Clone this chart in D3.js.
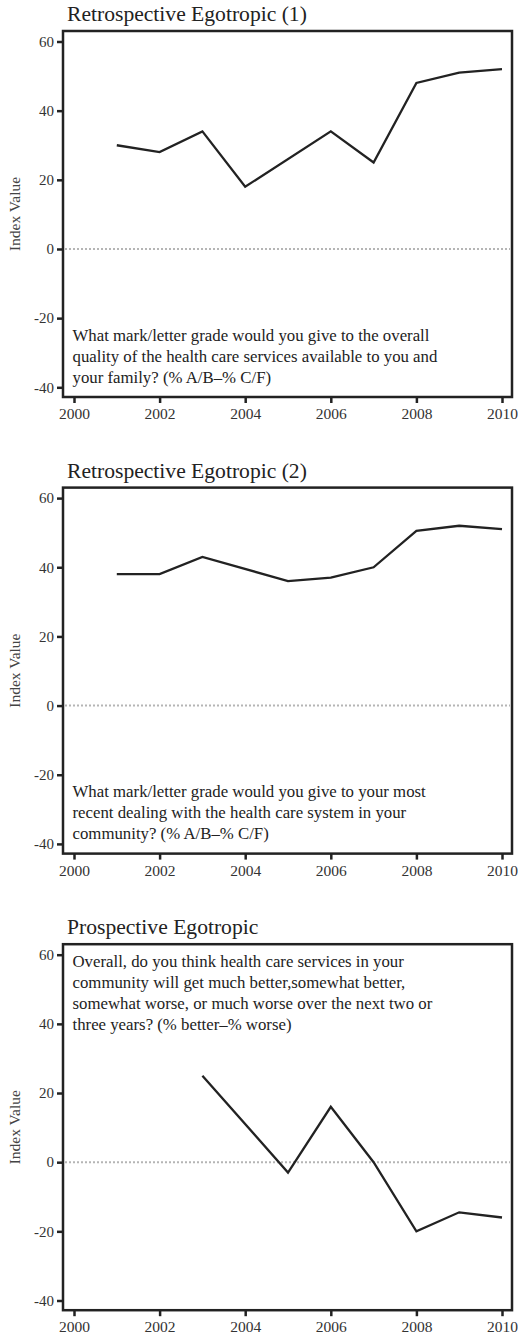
<!DOCTYPE html>
<html>
<head>
<meta charset="utf-8">
<script src="https://cdn.jsdelivr.net/npm/d3@7"></script>
<style>
  html, body { margin: 0; padding: 0; background: #fff; }
  svg { display: block; }
  svg text { font-family: "Liberation Serif", "Times New Roman", serif; }
</style>
</head>
<body>
<svg id="chart" width="518" height="1338"></svg>
<script>
// Survey index series, one per panel
const titles = [
  "Retrospective Egotropic (1)",
  "Retrospective Egotropic (2)",
  "Prospective Egotropic"
];

const years1 = [2001, 2002, 2003, 2004, 2006, 2007, 2008, 2009, 2010];
const values1 = [30, 28, 34, 18, 34, 25, 48, 51, 52];

const years2 = [2001, 2002, 2003, 2005, 2006, 2007, 2008, 2009, 2010];
const values2 = [38, 38, 43, 36, 37, 40, 50.5, 52, 51];

const years3 = [2003, 2005, 2006, 2007, 2008, 2009, 2010];
const values3 = [25, -3, 16, 0, -20, -14.5, -16];

const questions = [
  ["What mark/letter grade would you give to the overall",
   "quality of the health care services available to you and",
   "your family? (% A/B\u2013% C/F)"],
  ["What mark/letter grade would you give to your most",
   "recent dealing with the health care system in your",
   "community? (% A/B\u2013% C/F)"],
  ["Overall, do you think health care services in your",
   "community will get much better,somewhat better,",
   "somewhat worse, or much worse over the next two or",
   "three years? (% better\u2013% worse)"]
];

const xTicks = [2000, 2002, 2004, 2006, 2008, 2010];
const yTicks = [-40, -20, 0, 20, 40, 60];
const yLabel = "Index Value";

const series = [
  { years: years1, values: values1 },
  { years: years2, values: values2 },
  { years: years3, values: values3 }
];

const svg = d3.select("#chart");
const panelStep = 456.6;
const serif = '"Liberation Serif", "Times New Roman", serif';

// Frame edges (pixels, within a panel)
const frame = { left: 63, right: 512, top: 31, bottom: 397 };

const x = d3.scaleLinear().domain([2000, 2010]).range([74, 502]);
const y = d3.scaleLinear().domain([-40, 60]).range([387.3, 41.5]);

const ink = "#222";

series.forEach((s, i) => {
  const g = svg.append("g").attr("transform", `translate(0,${i * panelStep})`);

  // Title
  g.append("text")
    .attr("x", 67).attr("y", 21)
    .style("font-size", "21.6px")
    .attr("fill", ink)
    .text(titles[i]);

  // Zero reference line
  g.append("line")
    .attr("x1", frame.left + 2).attr("x2", frame.right - 2)
    .attr("y1", y(0)).attr("y2", y(0))
    .attr("stroke", "#b5b5b5")
    .attr("stroke-width", 2)
    .attr("stroke-dasharray", "2,2");

  // Y axis ticks and labels
  const yAxis = d3.axisLeft(y).tickValues(yTicks).tickFormat(d => String(d))
    .tickSize(6).tickPadding(3);
  const ya = g.append("g").attr("transform", `translate(${frame.left},0)`).call(yAxis);
  ya.select(".domain").remove();
  ya.selectAll(".tick line").attr("stroke", ink).attr("stroke-width", 2.5);
  ya.selectAll(".tick text")
    .style("font-family", serif)
    .style("font-size", "15px").attr("fill", "#333");

  // X axis ticks and labels
  const xAxis = d3.axisBottom(x).tickValues(xTicks).tickFormat(d => String(d))
    .tickSize(6).tickPadding(5);
  const xa = g.append("g").attr("transform", `translate(0,${frame.bottom})`).call(xAxis);
  xa.select(".domain").remove();
  xa.selectAll(".tick line").attr("stroke", ink).attr("stroke-width", 2.5);
  xa.selectAll(".tick text")
    .style("font-family", serif)
    .style("font-size", "15.5px").attr("fill", "#333");

  // Plot frame
  g.append("rect")
    .attr("x", frame.left).attr("y", frame.top)
    .attr("width", frame.right - frame.left)
    .attr("height", frame.bottom - frame.top)
    .attr("fill", "none")
    .attr("stroke", ink)
    .attr("stroke-width", 2.5);

  // Y axis title
  g.append("text")
    .attr("transform", `translate(20,${(frame.top + frame.bottom) / 2}) rotate(-90)`)
    .attr("text-anchor", "middle")
    .style("font-size", "15.5px")
    .attr("fill", "#444")
    .text(yLabel);

  // Data line
  const pts = s.years.map((yr, k) => [yr, s.values[k]]);
  g.append("path")
    .datum(pts)
    .attr("fill", "none")
    .attr("stroke", ink)
    .attr("stroke-width", 2.3)
    .attr("stroke-linejoin", "miter")
    .attr("d", d3.line().x(d => x(d[0])).y(d => y(d[1])));

  // Survey question
  const q = questions[i];
  const baseY = i === 2 ? 967.3 - 2 * panelStep : 340.5;
  const t = g.append("text")
    .style("font-size", "16.8px")
    .attr("fill", ink);
  q.forEach((line, k) => {
    t.append("tspan")
      .attr("x", 72.5)
      .attr("y", baseY + k * 21)
      .text(line);
  });
});
</script>
</body>
</html>
